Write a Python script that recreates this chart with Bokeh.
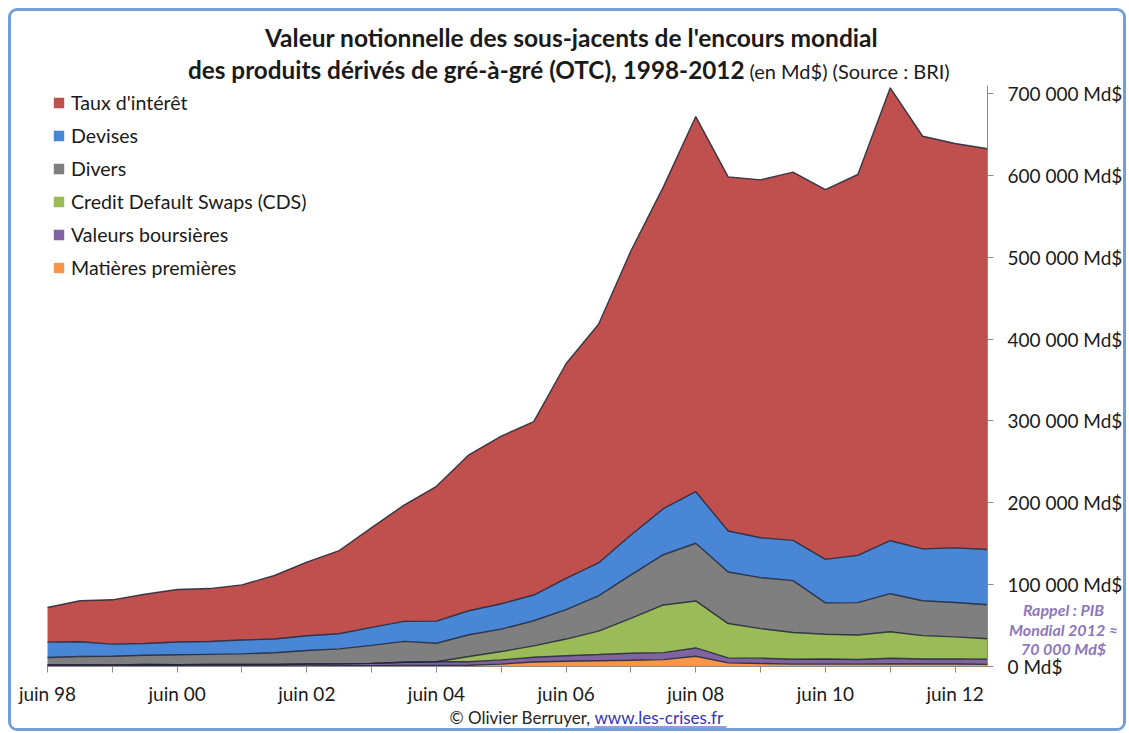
from bokeh.plotting import figure
from bokeh.models import (ColumnDataSource, Range1d, FixedTicker, Legend, LegendItem,
                          Label, BoxAnnotation)
from bokeh.transform import stack
from bokeh.embed import file_html
from bokeh.resources import INLINE

# ---------------- data (Md$) ----------------
periods = ["juin 98", "déc. 98", "juin 99", "déc. 99", "juin 00", "déc. 00",
           "juin 01", "déc. 01", "juin 02", "déc. 02", "juin 03", "déc. 03",
           "juin 04", "déc. 04", "juin 05", "déc. 05", "juin 06", "déc. 06",
           "juin 07", "déc. 07", "juin 08", "déc. 08", "juin 09", "déc. 09",
           "juin 10", "déc. 10", "juin 11", "déc. 11", "juin 12", "déc. 12"]

matieres = [443, 415, 441, 548, 584, 662, 590, 598, 777, 923, 1040, 1406,
            1270, 1443, 2940, 5434, 6394, 7115, 7567, 8455, 12500, 4427,
            3619, 2944, 2852, 2922, 3197, 3091, 2993, 2587]
valeurs = [1341, 1488, 1511, 1809, 1645, 1891, 1884, 1881, 2214, 2309, 2799, 3787,
           4521, 4385, 5094, 5793, 6782, 7488, 8590, 8469, 10177, 6155,
           6584, 5937, 6260, 5635, 6841, 5982, 6313, 6251]
cds = [0, 0, 0, 0, 0, 0, 0, 0, 0, 0, 0, 0,
       0, 6396, 10211, 13908, 20352, 28650, 42580, 58244, 57403, 41883,
       36046, 32693, 30261, 29898, 32409, 28626, 26931, 25069]
divers = [9236, 10380, 10535, 11410, 12160, 12312, 12906, 14383, 16495, 18327, 21932, 25508,
          22644, 26613, 27372, 30791, 35997, 43025, 53213, 61388, 70462, 62983,
          62316, 63270, 38298, 39535, 46499, 42597, 42028, 41611]
devises = [18719, 18011, 14899, 14344, 15494, 15666, 16910, 16748, 18068, 18448, 22088, 24475,
           26997, 29289, 31081, 31364, 38127, 40271, 48645, 56238, 62983, 50042,
           48732, 49181, 53153, 57796, 64698, 63349, 66645, 67358]
taux = [42368, 50015, 54072, 60091, 64125, 64668, 67465, 77568, 89955, 101658, 121799, 141991,
        164626, 190502, 204795, 211970, 262526, 291582, 347312, 393138, 458304, 432657,
        437198, 449875, 451831, 465260, 553240, 504117, 494018, 489703]

series_keys = ["mat", "val", "cds", "div", "dev", "taux"]
series_names = ["Matières premières", "Valeurs boursières", "Credit Default Swaps (CDS)",
                "Divers", "Devises", "Taux d'intérêt"]
series_colors = ["#F79646", "#8064A2", "#9BBB59", "#7F7F7F", "#4A86D6", "#C0504D"]

x_ticks = [0, 2, 4, 6, 8, 10, 12, 14, 16, 18, 20, 22, 24, 26, 28]
x_tick_labels = ["juin 98", "", "juin 00", "", "juin 02", "", "juin 04", "",
                 "juin 06", "", "juin 08", "", "juin 10", "", "juin 12"]
y_ticks = [0, 100000, 200000, 300000, 400000, 500000, 600000, 700000]
y_tick_labels = ["0 Md$", "100 000 Md$", "200 000 Md$", "300 000 Md$",
                 "400 000 Md$", "500 000 Md$", "600 000 Md$", "700 000 Md$"]

source = ColumnDataSource(dict(x=list(range(len(periods))), periode=periods,
                               mat=matieres, val=valeurs, cds=cds, div=divers,
                               dev=devises, taux=taux))

FONT = "Lato"

# ---------------- layout (canvas pixels) ----------------
W, H = 1118, 723          # element size incl. 3px border; canvas origin at page (11, 11)
OX, OY = 11, 11           # page offset of canvas
X_FIRST, X_LAST = 47 - OX, 987 - OX      # canvas x of first / last period
Y_ZERO, Y_700 = 666 - OY, 93 - OY        # canvas y of 0 and 700 000
n_last = len(periods) - 1
ppx = (X_LAST - X_FIRST) / n_last
ppy = (Y_ZERO - Y_700) / 700000.0
x_start = -X_FIRST / ppx
x_end = n_last + (W - X_LAST) / ppx
y_start = -(H - Y_ZERO) / ppy
y_end = Y_ZERO / ppy

p = figure(width=W, height=H,
           x_range=Range1d(x_start, x_end), y_range=Range1d(y_start, y_end),
           output_backend="svg", toolbar_location=None, y_axis_location="right",
           min_border=0, title=None)
p.margin = (8, 0, 0, 8)
p.styles = {"border": "3px solid #739fd8", "border-radius": "9px", "overflow": "hidden"}
p.outline_line_color = None
p.xgrid.visible = False
p.ygrid.visible = False
p.background_fill_color = "white"
p.border_fill_color = "white"

areas = p.varea_stack(stackers=series_keys, x="x", color=series_colors, source=source)
for i in range(len(series_keys)):
    p.line(x="x", y=stack(*series_keys[:i + 1]), source=source,
           line_color="#1e2436", line_width=1.4, line_alpha=0.85)

# axes, fixed at the plot-area edges
xa = p.xaxis[0]
xa.fixed_location = 0
xa.bounds = (0, n_last)
xa.ticker = FixedTicker(ticks=x_ticks)
xa.major_label_overrides = {t: l for t, l in zip(x_ticks, x_tick_labels)}
xa.minor_tick_line_color = None
xa.axis_line_color = "#8a8a8a"
xa.major_tick_line_color = "#8a8a8a"
xa.major_tick_in = 0
xa.major_tick_out = 6
xa.major_label_standoff = 9
xa.major_label_text_font = FONT
xa.major_label_text_font_size = "19px"
xa.major_label_text_color = "#1a1a1a"

ya = p.yaxis[0]
ya.fixed_location = n_last
ya.bounds = (0, 710000)
ya.ticker = FixedTicker(ticks=y_ticks)
ya.major_label_overrides = {t: l for t, l in zip(y_ticks, y_tick_labels)}
ya.minor_tick_line_color = None
ya.axis_line_color = "#8a8a8a"
ya.major_tick_line_color = "#8a8a8a"
ya.major_tick_in = 0
ya.major_tick_out = 6
ya.major_label_standoff = 14
ya.major_label_text_font = FONT
ya.major_label_text_font_size = "19px"
ya.major_label_text_color = "#1a1a1a"

# legend (top of stack first)
items = [LegendItem(label=series_names[i], renderers=[areas[i]])
         for i in reversed(range(len(series_keys)))]
n_items = len(items)
row_h, row_gap = 28, 5
leg_h = n_items * row_h + (n_items - 1) * row_gap
leg_top = 102 - OY - row_h / 2
legend = Legend(items=items, location=(52 - OX, H - leg_top - leg_h), margin=0, padding=0,
                glyph_width=13, glyph_height=13, label_height=row_h, spacing=row_gap,
                label_standoff=6, label_text_font=FONT, label_text_font_size="19.6px",
                label_text_color="#1a1a1a", background_fill_alpha=0,
                border_line_color=None)
p.add_layout(legend)


# text helper: page coordinates -> canvas screen units (origin bottom-left)
def lab(px, py, text, size, align="left", style="normal", color="#1a1a1a"):
    p.add_layout(Label(x=px - OX, y=H - (py - OY), x_units="screen", y_units="screen",
                       text=text, text_font=FONT, text_font_size=size,
                       text_font_style=style, text_color=color,
                       text_align=align, text_baseline="middle"))


lab(571, 37, "Valeur notionnelle des sous-jacents de l'encours mondial", "24.5px",
    align="center", style="bold")
lab(744, 69, "des produits dérivés de gré-à-gré (OTC), 1998-2012", "24.3px",
    align="right", style="bold")
lab(749, 70, "(en Md$) (Source : BRI)", "20px", align="left")

link = "#3434b8"
lab(590, 717, "© Olivier Berruyer,", "17px", align="right", color="#262626")
lab(594, 717, "www.les-crises.fr", "17px", align="left", color=link)
p.add_layout(BoxAnnotation(left=594 - OX, right=726 - OX,
                           bottom=H - (727 - OY), top=H - (726 - OY),
                           left_units="screen", right_units="screen",
                           bottom_units="screen", top_units="screen",
                           fill_color=link, fill_alpha=1, line_color=None))

purple = "#8e77bd"
lab(1063, 609, "Rappel : PIB", "16px", align="center", style="bold italic", color=purple)
lab(1063, 629, "Mondial 2012 ≈", "16px", align="center", style="bold italic", color=purple)
lab(1063, 648, "70 000 Md$", "16px", align="center", style="bold italic", color=purple)

open("out.html", "w").write(file_html(p, INLINE))
